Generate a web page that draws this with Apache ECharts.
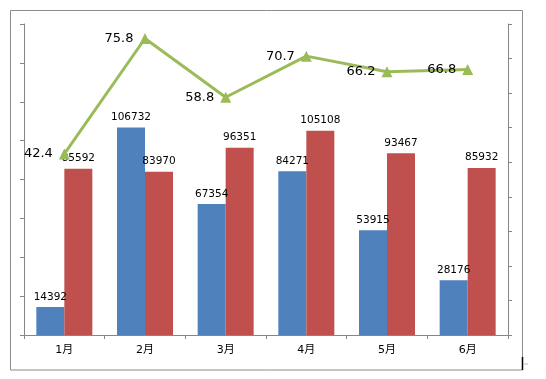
<!DOCTYPE html>
<html>
<head>
<meta charset="utf-8">
<script src="https://cdn.jsdelivr.net/npm/echarts@6/dist/echarts.min.js"></script>
<style>html,body{margin:0;padding:0;background:#fff;}#c{width:546px;height:379px;}</style>
</head>
<body>
<div id="c"></div>
<script>
const categories = ['1月','2月','3月','4月','5月','6月'];
const blueValues = [14392,106732,67354,84271,53915,28176];
const redValues = [85592,83970,96351,105108,93467,85932];
const lineValues = [42.4,75.8,58.8,70.7,66.2,66.8];

const chart = echarts.init(document.getElementById('c'));
const axisGray = '#868686';
const fontFam = '"DejaVu Sans", "Noto Sans CJK SC", sans-serif';
chart.setOption({
  animation: false,
  backgroundColor: '#fff',
  textStyle: { fontFamily: fontFam },
  graphic: [
    { type: 'rect', shape: { x: 10.5, y: 10.5, width: 512, height: 359.5 }, style: { fill: 'none', stroke: '#8c8c8c', lineWidth: 1 }, z: -1 },
    { type: 'line', shape: { x1: 522.5, y1: 357, x2: 522.5, y2: 370 }, style: { stroke: '#000', lineWidth: 1.5 } },
    { type: 'line', shape: { x1: 524, y1: 364, x2: 528, y2: 364 }, style: { stroke: '#bbb', lineWidth: 1 } }
  ],
  grid: { left: 24, right: 38, top: 24, bottom: 44, containLabel: false },
  xAxis: {
    type: 'category',
    data: categories,
    axisLine: { lineStyle: { color: axisGray } },
    axisTick: { show: true, length: 4, alignWithLabel: false, lineStyle: { color: axisGray } },
    axisLabel: { color: '#000', fontSize: 11, margin: 10, fontFamily: fontFam },
    splitLine: { show: false }
  },
  yAxis: [
    {
      type: 'value', min: 0, max: 160000, interval: 20000, position: 'left',
      axisLine: { show: true, lineStyle: { color: axisGray } },
      axisTick: { show: true, length: 4, inside: false, lineStyle: { color: axisGray } },
      axisLabel: { show: false },
      splitLine: { show: false }
    },
    {
      type: 'value', min: -10, max: 80, interval: 10, position: 'right',
      axisLine: { show: true, lineStyle: { color: axisGray } },
      axisTick: { show: true, length: 4, inside: false, lineStyle: { color: axisGray } },
      axisLabel: { show: false },
      splitLine: { show: false }
    }
  ],
  series: [
    {
      type: 'bar', data: blueValues, barWidth: 28, barGap: '0%',
      itemStyle: { color: '#4F81BD' },
      label: { show: true, position: 'top', color: '#000', fontSize: 10.5, distance: 5, fontFamily: fontFam }
    },
    {
      type: 'bar', data: redValues, barWidth: 28, barGap: '0%',
      itemStyle: { color: '#C0504D' },
      label: { show: true, position: 'top', color: '#000', fontSize: 10.5, distance: 5, fontFamily: fontFam }
    },
    {
      type: 'line', yAxisIndex: 1, data: lineValues, z: 5,
      lineStyle: { color: '#9BBB59', width: 3 },
      itemStyle: { color: '#9BBB59' },
      symbol: 'triangle', symbolSize: 11,
      label: { show: true, position: 'left', distance: 6, color: '#000', fontSize: 13, fontFamily: fontFam, formatter: p => p.value.toFixed(1) }
    }
  ]
});
</script>
</body>
</html>
